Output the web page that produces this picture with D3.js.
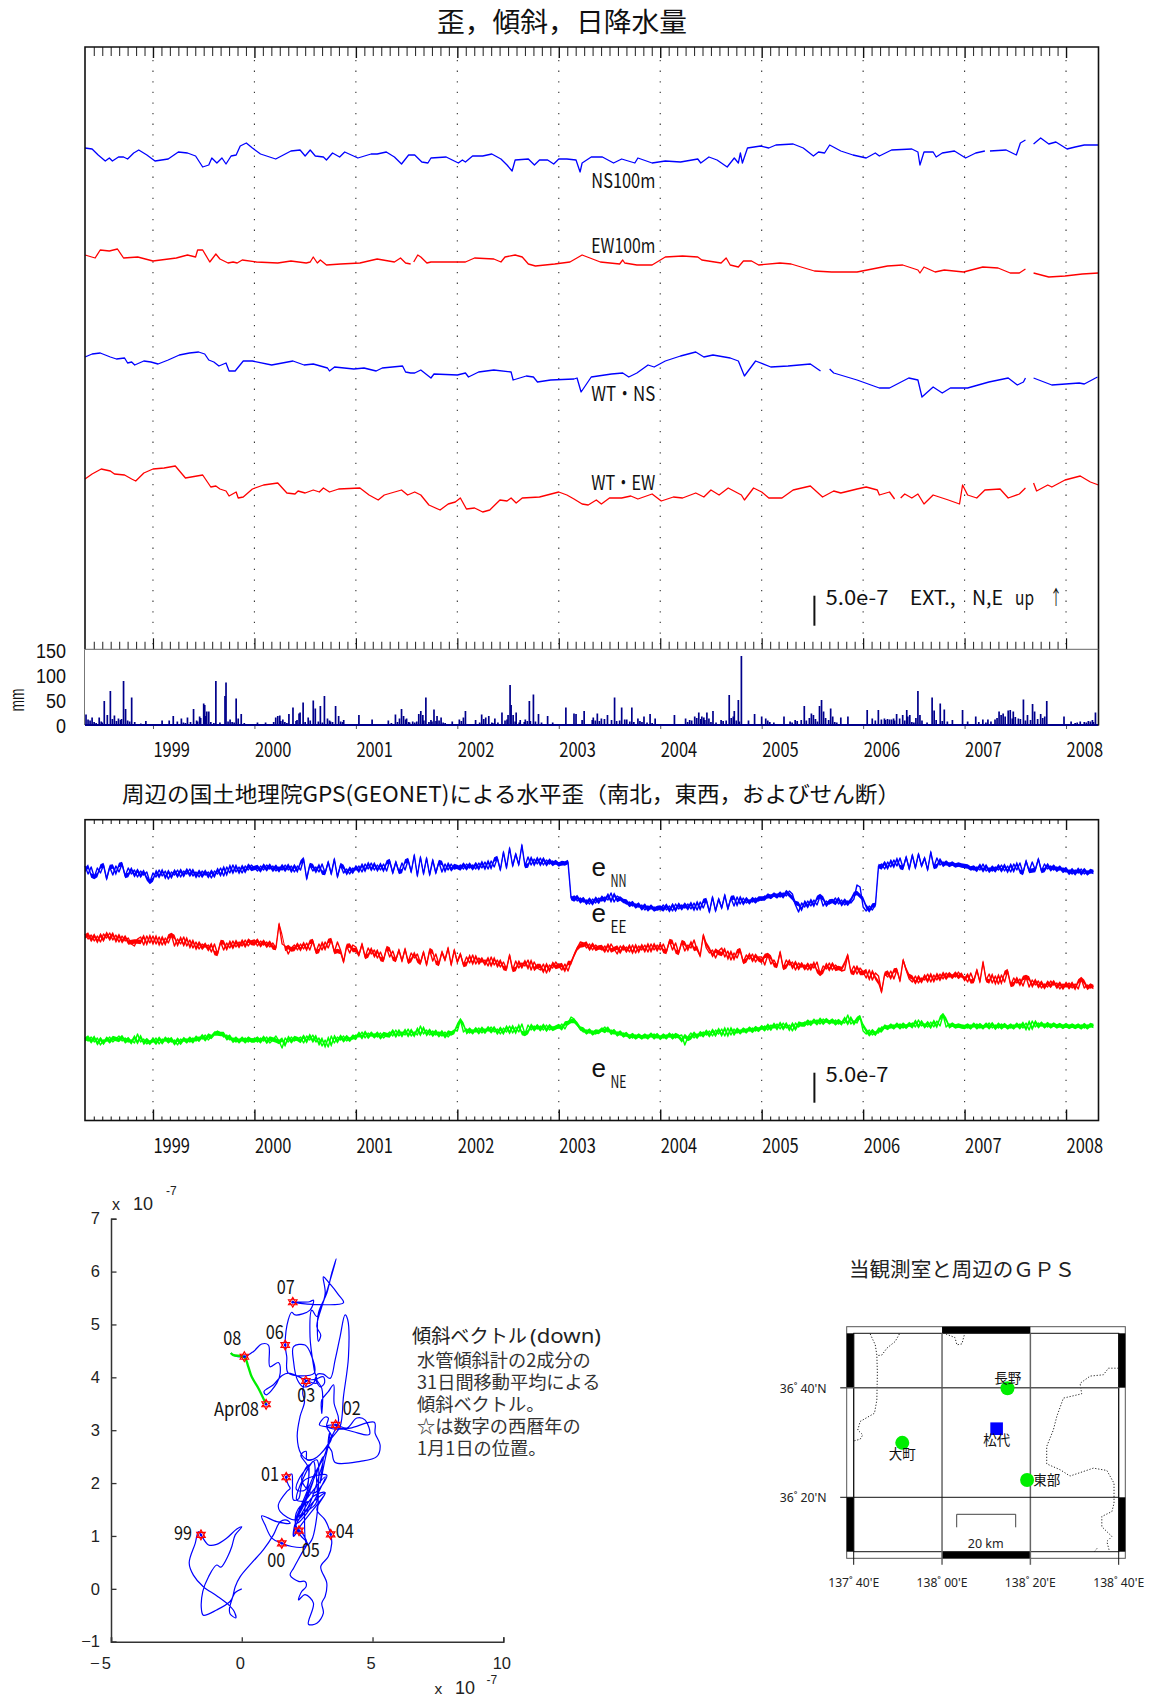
<!DOCTYPE html>
<html lang="ja"><head><meta charset="utf-8">
<script src="https://cdnjs.cloudflare.com/ajax/libs/d3/7.8.5/d3.min.js"></script>
<style>html,body{margin:0;padding:0;background:#fff}svg{display:block}</style></head><body>
<svg id="c" width="1151" height="1698"></svg>
<script>
// ---- time axis ----
const yearRange=[1998.33,2008.32];
const yearLabels=[1999,2000,2001,2002,2003,2004,2005,2006,2007,2008];
// ---- strain / tilt traces: [year, level] level unit = 1/30 of the 5.0e-7 bar; null = gap ----
const ns100=[[1998.33,501],[1998.40,500],[1998.46,494],[1998.53,488],[1998.57,491],[1998.60,488],[1998.66,492],[1998.71,492],[1998.75,490],[1998.81,496],[1998.86,499],[1998.94,494],[1999.02,488],[1999.15,490],[1999.25,497],[1999.34,496],[1999.42,493],[1999.49,482],[1999.55,484],[1999.58,491],[1999.63,486],[1999.68,491],[1999.72,485],[1999.77,493],[1999.82,494],[1999.86,503],[1999.92,506],[1999.98,501],[2000.06,495],[2000.21,490],[2000.36,498],[2000.45,499],[2000.50,493],[2000.55,499],[2000.60,493],[2000.68,492],[2000.71,489],[2000.77,496],[2000.84,492],[2000.89,497],[2001.02,491],[2001.15,495],[2001.21,495],[2001.30,497],[2001.38,492],[2001.45,485],[2001.52,494],[2001.58,494],[2001.65,487],[2001.71,486],[2001.74,491],[2001.89,492],[2002.01,486],[2002.05,489],[2002.08,487],[2002.15,493],[2002.25,493],[2002.34,495],[2002.43,490],[2002.49,484],[2002.54,478],[2002.57,489],[2002.70,490],[2002.76,484],[2002.81,489],[2002.89,489],[2002.95,485],[2003.00,490],[2003.08,490],[2003.17,489],[2003.21,477],[2003.23,486],[2003.32,492],[2003.43,492],[2003.54,486],[2003.62,490],[2003.75,486],[2003.78,491],[2003.92,486],[2004.05,488],[2004.20,487],[2004.37,490],[2004.40,486],[2004.48,492],[2004.56,489],[2004.66,482],[2004.73,491],[2004.77,486],[2004.79,496],[2004.81,486],[2004.86,501],[2004.99,503],[2005.07,501],[2005.14,504],[2005.31,505],[2005.41,501],[2005.51,493],[2005.56,497],[2005.62,496],[2005.67,504],[2005.78,498],[2005.90,494],[2006.03,491],[2006.12,496],[2006.16,493],[2006.28,499],[2006.48,500],[2006.54,497],[2006.56,484],[2006.60,497],[2006.69,497],[2006.72,492],[2006.78,496],[2006.90,498],[2007.01,491],[2007.11,496],[2007.20,498],null,[2007.25,498],[2007.41,499],[2007.51,494],[2007.55,506],[2007.60,509],null,[2007.68,505],[2007.75,511],[2007.83,505],[2007.90,507],[2008.01,500],[2008.09,502],[2008.18,504],[2008.32,504]];
const ew100=[[1998.33,394],[1998.43,391],[1998.48,399],[1998.57,398],[1998.65,400],[1998.71,391],[1998.85,392],[1999.00,388],[1999.23,391],[1999.34,394],[1999.42,392],[1999.44,399],[1999.49,399],[1999.56,387],[1999.62,395],[1999.66,390],[1999.74,386],[1999.79,387],[1999.83,386],[1999.88,389],[2000.02,387],[2000.23,386],[2000.36,388],[2000.51,386],[2000.55,387],[2000.58,392],[2000.62,386],[2000.65,389],[2000.71,384],[2000.85,385],[2001.04,386],[2001.21,390],[2001.38,387],[2001.44,391],[2001.49,386],[2001.54,385],null,[2001.57,387],[2001.61,394],[2001.64,392],[2001.70,386],[2001.74,387],[2002.08,387],[2002.17,391],[2002.36,390],[2002.43,387],[2002.47,392],[2002.57,394],[2002.64,392],[2002.70,385],[2002.77,383],[2002.96,385],[2003.11,387],[2003.23,394],[2003.41,387],[2003.60,385],[2003.63,389],[2003.65,386],[2003.77,384],[2003.92,384],[2004.05,392],[2004.22,393],[2004.37,392],[2004.41,389],[2004.60,386],[2004.65,391],[2004.69,384],[2004.77,382],[2004.82,388],[2004.90,388],[2004.97,384],[2005.18,386],[2005.29,385],[2005.52,378],[2005.69,377],[2005.94,377],[2006.24,383],[2006.39,384],[2006.54,379],[2006.56,376],[2006.60,382],[2006.71,377],[2006.80,379],[2006.99,377],[2007.18,382],[2007.33,381],[2007.45,376],[2007.54,376],[2007.60,380],null,[2007.68,376],[2007.83,372],[2007.99,373],[2008.16,375],[2008.32,376]];
const wtNS=[[1998.33,292],[1998.40,295],[1998.48,296],[1998.58,292],[1998.64,290],[1998.72,291],[1998.75,286],[1998.79,287],[1998.82,284],[1998.91,288],[1998.98,287],[1999.05,285],[1999.15,289],[1999.26,294],[1999.36,296],[1999.45,297],[1999.51,295],[1999.55,289],[1999.60,287],[1999.65,283],[1999.72,286],[1999.75,278],[1999.81,278],[1999.89,288],[1999.98,288],[2000.17,284],[2000.38,288],[2000.49,284],[2000.58,285],[2000.72,281],[2000.74,278],[2000.79,282],[2000.98,280],[2001.08,281],[2001.20,278],[2001.26,281],[2001.46,283],[2001.49,277],[2001.54,276],[2001.58,276],[2001.64,279],[2001.74,271],[2001.77,275],[2002.00,274],[2002.08,276],[2002.11,272],[2002.21,277],[2002.36,279],[2002.53,277],[2002.55,269],[2002.68,273],[2002.75,272],[2002.79,267],[2002.92,269],[2003.15,270],[2003.18,271],[2003.22,257],[2003.32,272],[2003.52,275],[2003.63,276],[2003.69,272],[2003.77,276],[2003.88,284],[2003.94,282],[2004.05,288],[2004.20,293],[2004.35,297],[2004.43,292],[2004.52,294],[2004.69,291],[2004.77,288],[2004.83,273],[2004.94,288],[2005.09,282],[2005.26,283],[2005.48,285],[2005.58,278],null,[2005.67,280],[2005.71,276],[2005.94,269],[2006.16,261],[2006.26,261],[2006.45,271],[2006.54,269],[2006.58,252],[2006.69,262],[2006.78,256],[2006.86,261],[2007.03,261],[2007.24,267],[2007.43,271],[2007.52,264],[2007.58,267],[2007.60,271],null,[2007.68,271],[2007.86,264],[2008.13,266],[2008.18,265],[2008.31,272]];
const wtEW=[[1998.33,170],[1998.40,175],[1998.49,180],[1998.58,178],[1998.62,175],[1998.72,174],[1998.79,170],[1998.83,168],[1998.91,176],[1999.00,180],[1999.11,181],[1999.22,183],[1999.32,171],[1999.49,174],[1999.57,162],[1999.62,163],[1999.66,160],[1999.72,158],[1999.75,153],[1999.82,157],[1999.84,151],[1999.89,152],[1999.98,160],[2000.09,164],[2000.23,166],[2000.32,156],[2000.40,155],[2000.43,158],[2000.50,156],[2000.58,159],[2000.64,157],[2000.68,161],[2000.74,157],[2000.83,160],[2001.04,161],[2001.13,154],[2001.22,149],[2001.28,154],[2001.45,159],[2001.51,154],[2001.58,157],[2001.64,154],[2001.72,144],[2001.83,139],[2001.91,145],[2001.98,147],[2002.03,151],[2002.09,140],[2002.17,141],[2002.25,137],[2002.32,139],[2002.42,149],[2002.49,148],[2002.53,151],[2002.58,146],[2002.64,151],[2002.81,152],[2003.00,157],[2003.08,154],[2003.15,150],[2003.23,145],[2003.29,144],[2003.37,149],[2003.42,145],[2003.50,151],[2003.62,151],[2003.71,153],[2003.78,150],[2003.92,155],[2004.01,148],[2004.13,152],[2004.22,151],[2004.35,156],[2004.43,152],[2004.50,159],[2004.58,154],[2004.67,161],[2004.80,154],[2004.83,149],[2004.92,161],[2005.00,157],[2005.07,151],[2005.20,151],[2005.31,159],[2005.48,163],[2005.60,152],[2005.71,158],[2005.78,156],[2005.94,160],[2006.03,162],[2006.14,159],[2006.16,154],[2006.26,157],[2006.31,150],null,[2006.37,151],[2006.41,155],[2006.48,151],[2006.54,155],[2006.60,145],[2006.69,154],[2006.84,149],[2006.95,145],[2006.98,164],[2007.03,154],[2007.12,151],[2007.20,159],[2007.35,160],[2007.43,151],[2007.54,155],[2007.60,161],null,[2007.68,166],[2007.71,158],[2007.82,164],[2007.86,162],[2007.99,169],[2008.14,173],[2008.24,167],[2008.32,164]];
// ---- daily precipitation ----
const rainYear=[1998.34,1998.36,1998.40,1998.47,1998.52,1998.55,1998.58,1998.62,1998.66,1998.71,1998.73,1998.79,1998.93,1999.09,1999.16,1999.20,1999.24,1999.28,1999.34,1999.40,1999.46,1999.50,1999.51,1999.53,1999.55,1999.62,1999.71,1999.72,1999.76,1999.82,1999.84,1999.87,2000.03,2000.11,2000.21,2000.23,2000.25,2000.28,2000.34,2000.38,2000.44,2000.45,2000.48,2000.53,2000.58,2000.60,2000.65,2000.69,2000.72,2000.75,2000.80,2000.83,2000.88,2001.03,2001.16,2001.32,2001.39,2001.45,2001.47,2001.50,2001.56,2001.62,2001.64,2001.66,2001.69,2001.74,2001.77,2001.80,2001.84,2001.95,2002.02,2002.06,2002.08,2002.18,2002.24,2002.28,2002.31,2002.37,2002.44,2002.50,2002.52,2002.53,2002.55,2002.58,2002.62,2002.67,2002.71,2002.75,2002.80,2002.89,2002.94,2003.07,2003.15,2003.17,2003.23,2003.25,2003.34,2003.38,2003.48,2003.55,2003.62,2003.65,2003.72,2003.78,2003.84,2003.90,2003.95,2004.14,2004.25,2004.29,2004.34,2004.38,2004.41,2004.46,2004.52,2004.60,2004.68,2004.73,2004.77,2004.80,2004.87,2004.93,2005.00,2005.04,2005.22,2005.33,2005.39,2005.42,2005.49,2005.51,2005.57,2005.59,2005.61,2005.68,2005.70,2005.78,2005.85,2006.04,2006.09,2006.15,2006.21,2006.26,2006.30,2006.33,2006.39,2006.43,2006.46,2006.54,2006.56,2006.68,2006.70,2006.76,2006.80,2006.88,2006.98,2007.03,2007.11,2007.18,2007.23,2007.26,2007.34,2007.38,2007.43,2007.45,2007.48,2007.53,2007.58,2007.62,2007.67,2007.69,2007.75,2007.79,2007.81,2007.98,2008.05,2008.14,2008.22,2008.26,2008.29];
const rainMm=[21,11,15,15,48,20,68,19,13,88,32,55,8,9,9,18,7,13,15,32,17,43,40,27,27,88,58,85,11,53,13,22,5,5,15,18,19,11,22,35,23,25,45,15,49,33,38,58,13,7,38,18,10,20,11,9,21,32,18,13,7,22,28,20,55,10,31,18,15,7,11,15,28,10,21,15,18,13,25,20,80,40,20,25,10,11,48,61,22,18,5,35,23,22,10,28,15,23,20,55,35,11,35,13,17,22,13,20,13,10,17,25,17,25,28,10,60,28,50,138,9,22,17,13,17,10,10,38,23,20,38,50,27,33,17,15,17,30,13,30,13,11,13,22,20,30,20,68,20,55,29,43,31,10,30,7,17,11,11,7,27,23,29,30,27,13,51,20,42,27,22,17,48,17,7,7,8,10,25];
const rainLight=[[1998.38,9],[1998.42,6],[1998.44,4],[1998.49,7],[1998.50,5],[1998.60,12],[1998.64,8],[1998.68,10],[1998.69,12],[1998.75,9],[1998.77,7],[1998.82,6],[1998.88,3],[1999.30,5],[1999.32,4],[1999.37,6],[1999.43,9],[1999.44,7],[1999.47,14],[1999.52,18],[1999.57,6],[1999.60,4],[1999.66,5],[1999.74,7],[1999.78,6],[1999.80,5],[1999.90,4],[2000.19,6],[2000.26,8],[2000.30,6],[2000.32,4],[2000.41,8],[2000.42,10],[2000.50,6],[2000.55,9],[2000.63,7],[2000.67,5],[2000.74,9],[2000.77,6],[2000.85,7],[2000.87,6],[2001.35,4],[2001.41,6],[2001.43,13],[2001.49,11],[2001.52,6],[2001.53,5],[2001.58,5],[2001.60,7],[2001.67,9],[2001.72,6],[2001.75,7],[2001.79,8],[2001.82,9],[2001.86,5],[2001.88,4],[2002.04,8],[2002.22,5],[2002.26,12],[2002.34,5],[2002.35,4],[2002.40,5],[2002.47,9],[2002.49,11],[2002.57,7],[2002.61,5],[2002.66,6],[2002.69,8],[2002.72,8],[2002.77,7],[2002.83,5],[2003.33,10],[2003.36,9],[2003.40,8],[2003.42,13],[2003.45,12],[2003.52,10],[2003.57,8],[2003.60,9],[2003.67,11],[2003.70,7],[2003.74,6],[2003.80,8],[2003.82,6],[2003.87,5],[2003.92,4],[2004.27,6],[2004.31,9],[2004.36,14],[2004.40,12],[2004.43,15],[2004.44,10],[2004.48,13],[2004.50,6],[2004.55,5],[2004.62,8],[2004.65,9],[2004.70,14],[2004.72,17],[2004.75,9],[2004.78,7],[2005.06,9],[2005.08,6],[2005.12,5],[2005.28,7],[2005.30,5],[2005.35,8],[2005.44,9],[2005.47,14],[2005.53,12],[2005.55,7],[2005.63,14],[2005.66,10],[2005.72,6],[2005.74,5],[2006.12,9],[2006.18,11],[2006.22,10],[2006.24,12],[2006.28,11],[2006.31,9],[2006.36,13],[2006.41,9],[2006.44,17],[2006.48,6],[2006.50,5],[2006.52,14],[2006.58,9],[2006.63,5],[2006.72,10],[2006.78,8],[2006.83,7],[2007.14,6],[2007.21,5],[2007.30,11],[2007.32,14],[2007.36,20],[2007.40,17],[2007.47,13],[2007.50,16],[2007.55,12],[2007.60,9],[2007.65,10],[2007.72,12],[2007.77,14],[2008.09,4],[2008.11,5],[2008.18,6],[2008.20,5],[2008.24,7],[2008.27,6]];
const rainTicks=[0,50,100,150];
// ---- GEONET strain: rows of [startYear, endYear, readings]; level unit = 1/30 of the bar ----
const gpsNN=[
[1998.33,1999,[254,246,253,243,252,247,255,241,253,245,254,248,256,244,252,246,250,243,249,245,248,238]],
[1999,2000,[247,243,250,244,249,241,248,245,250,243,249,246,251,244,248,243,249,245,248,242,249,246,252,244,253,247,255,248,253,247,254,250,255]],
[2000,2001,[252,249,254,250,255,251,254,249,253,250,255,250,254,248,254,250,261,241,255,249,253,248,256,247,258,246,261,243,255,247,251,246,252]],
[2001,2002,[250,254,248,256,251,257,250,255,250,256,249,259,247,258,248,257,250,260,248,265,244,263,246,262,245,260,247,258,248,256,250,256,251]],
[2002,2003,[252,255,251,256,252,255,251,257,252,258,251,259,253,262,250,268,252,272,254,266,255,275,254,263,255,261,256,262,255,260,256,259,256]],
[2003,2004,[257,255,257,258,222,224,219,222,218,220,216,221,217,222,219,223,220,227,218,224,222,219,216,218,214,216,213,215,210,214,211,213,210]],
[2004,2005,[211,215,210,214,209,216,211,215,212,216,211,217,210,218,212,220,208,223,209,221,212,225,211,222,214,223,216,222,217,220,218,222,219]],
[2005,2006,[221,224,222,225,224,226,223,227,224,229,226,215,208,217,213,219,214,220,215,224,214,219,216,218,222,216,220,215,219,217,221,235,233]],
[2006,2007,[213,209,214,210,215,254,256,251,258,253,260,254,262,252,263,251,265,252,266,254,262,250,268,253,262,255,258,255,257,255,256,254,255]],
[2007,2008,[255,253,252,250,253,250,256,249,252,249,253,250,255,249,254,248,256,250,257,247,259,249,258,250,261,249,256,251,254,250,253,250,252]],
[2008,2008.3,[248,250,246,250,247,251,246,249,247,249]]];
const gpsEE=[
[1998.33,1999,[186,181,185,179,184,178,186,182,187,180,185,178,184,179,182,176,174,181,183,175,184,177]],
[1999,2000,[184,176,183,175,182,177,185,174,181,176,183,174,180,172,178,171,176,173,175,168,176,166,178,170,177,172,179,173,178,174,180,174,179]],
[2000,2001,[180,174,179,175,178,173,177,172,196,176,174,166,172,175,170,176,171,177,170,179,168,176,170,178,172,180,168,178,170,158,174,167,175]],
[2001,2002,[173,165,176,163,172,166,170,162,168,160,172,163,169,160,170,159,171,158,167,162,166,157,168,155,170,159,166,156,168,160,172,155,170]],
[2002,2003,[158,166,155,163,157,165,156,162,158,160,154,163,155,160,153,158,151,165,150,159,152,157,154,160,150,158,152,150,156,147,155,152,158]],
[2003,2004,[154,150,156,149,158,165,172,178,177,172,176,170,175,172,170,174,168,176,171,166,174,170,173,168,175,167,174,170,175,168,176,170,175]],
[2004,2005,[170,176,168,179,170,177,167,178,169,175,172,180,170,164,185,172,167,170,162,169,172,163,169,160,167,162,170,158,165,161,166,158,163]],
[2005,2006,[163,155,165,156,160,154,168,152,160,155,158,150,157,153,155,150,156,152,158,146,154,151,157,150,155,152,149,150,165,148,154,146,152]],
[2006,2007,[148,142,150,140,147,144,128,146,143,149,141,150,139,160,150,141,138,144,137,142,140,146,138,145,140,146,141,147,143,145,143,148,143]],
[2007,2008,[143,138,147,139,150,138,158,140,146,137,144,136,145,138,149,135,142,137,141,134,143,133,140,135,139,132,136,133,139,135,137,131,136]],
[2008,2008.3,[133,137,132,136,131,141,132,135,132,134]]];
const gpsNE=[
[1998.33,1999,[82,79,83,78,82,75,80,79,83,78,81,84,79,82,78,80,77,86,78,81,76,79]],
[1999,2000,[78,82,76,81,79,82,78,80,75,81,79,81,78,82,79,83,81,85,80,84,86,89,87,83,85,80,82,78,81,79,82,78,81]],
[2000,2001,[81,78,82,79,83,77,80,84,79,72,82,78,83,79,81,83,77,84,80,85,78,82,74,80,73,84,77,83,80,84,79,82,81]],
[2001,2002,[85,83,88,82,87,84,86,83,87,82,85,88,84,90,84,88,85,91,84,88,85,94,86,90,85,89,85,88,84,88,83,87,90]],
[2002,2003,[89,100,88,91,87,90,88,92,87,91,89,93,88,91,86,92,88,94,87,93,88,96,86,95,90,94,91,94,90,95,90,93,92]],
[2003,2004,[92,96,91,97,103,101,95,91,88,90,87,89,86,88,90,93,88,90,86,88,85,87,84,85,82,85,83,84,82,85,83,86,82]],
[2004,2005,[84,82,85,83,86,82,84,85,75,83,87,82,86,84,88,85,89,84,90,86,91,84,92,85,91,87,90,88,91,89,92,89,92]],
[2005,2006,[91,94,90,95,92,96,91,97,92,95,89,97,93,96,98,95,99,97,100,96,101,98,99,97,100,96,98,97,105,96,99,97,103]],
[2006,2007,[89,86,90,85,88,87,93,92,94,92,95,93,96,92,95,94,97,93,100,94,96,93,98,93,99,94,105,93,96,94,95,93,94]],
[2007,2008,[94,92,95,93,96,92,94,93,97,92,95,92,96,93,94,92,95,93,96,92,97,90,99,93,97,94,96,93,96,94,95,93,95]],
[2008,2008.3,[93,95,93,94,93,95,92,95,93,95]]];
// ---- tilt vector path, units of 1e-7 ----
const tiltX=[0,-.25,-.45,-.96,-1.47,-1.54,-1.49,-1.27,-.96,-.80,-.51,-.38,-.25,0,-.19,-.57,-.96,-1.27,-1.56,-1.66,-1.78,-2.01,-1.85,-1.47,-.96,-.51,-.29,-.23,-.45,-.47,-.34,-.25,-.06,.38,.83,1.21,1.47,1.72,1.85,1.34,.76,.89,1.15,1.53,1.91,2.36,2.51,2.23,2.04,2.23,2.55,2.10,2.74,2.80,2.49,2.04,2.36,3.12,2.87,2.55,2.10,1.98,2.23,3.19,2.74,2.10,1.47,1.40,1.72,1.85,1.78,1.70,1.91,1.94,1.98,2.17,2.36,3.25,2.74,2.29,2.55,2.55,2.42,2.10,2.17,2.87,2.93,2.87,2.68,2.49,2.40,2.55,2.26,2.46,2.49,2.74,3.31,3.44,3.25,3.59,4.02,4.40,4.72,4.88,4.27,3.76,3.31,2.97,3.19,3.31,3.25,3.63,4.14,5.07,5.10,5.29,5.16,4.53,3.57,3.44,3.31,3.35,3.35,2.87,2.55,2.26,2.12,2.23,2.40,2.33,2.45,2.80,3.12,3.16,3.00,2.80,3.06,3.06,3.06,3.31,3.51,3.53,3.70,3.35,3.12,2.80,2.36,2.04,2.29,3.19,2.49,2.13,2.74,3.19,2.87,3.19,3.40,3.44,3.31,3.02,3.25,3.19,3.06,3.12,2.87,2.55,2.74,2.42,2.17,2.29,2.46,2.42,2.17,1.85,1.98,2.29,2.49,2.19,1.98,2.13,2.84,2.87,3.12,3.00,3.38,3.76,3.89,4.08,4.05,3.95,3.76,3.57,3.38,3.12,2.89,2.74,2.36,2.13,1.98,1.98,2.42,2.68,2.77,1.78,1.72,1.66,1.78,1.91,2.04,2.61,2.74,2.59,1.95,2.74,3.89,3.70,3.35,3.12,3.19,2.87,3.02,2.93,2.93,3.25,3.44,3.61,3.40,3.12,2.87,2.68,2.61,2.77,2.87,1.78,1.53,1.21,.85,.93,1.34,1.47,1.40,1.08,1.02,.76,.45,.10,-.32,-.42];
const tiltY=[0,-.07,-.24,-.40,-.50,-.40,-.05,.23,.45,.41,.64,.80,1.02,1.17,1.13,.96,.84,.83,1.02,1.08,.86,.49,.26,.04,-.13,-.30,-.43,-.55,-.47,-.37,-.14,.04,.23,.49,.74,1.02,1.27,1.30,1.24,1.27,1.38,1.21,.96,.86,.80,.79,.86,1.02,1.30,1.56,1.65,1.68,2.41,2.19,1.71,1.27,1.62,2.47,2.00,1.56,1.24,.99,1.18,1.81,1.65,1.30,1.46,1.59,1.84,1.90,1.97,2.11,2.17,2.00,1.68,1.70,2.04,2.15,1.81,2.06,2.34,2.06,1.87,1.87,2.06,2.44,1.88,1.37,.93,.83,1.40,2.28,2.53,2.60,2.44,2.45,2.72,2.88,3.07,3.10,3.04,3.23,3.19,2.92,2.97,3.04,3.06,3.10,3.25,3.23,3.07,3.02,3.04,3.15,2.94,2.72,2.50,2.41,2.39,2.60,2.72,2.94,2.79,2.49,2.44,2.56,2.88,3.26,3.54,3.70,3.93,3.96,4.01,3.89,3.82,3.98,3.79,3.32,3.57,3.73,3.86,3.51,3.19,2.79,2.47,2.19,1.68,1.30,1.56,2.12,1.43,1.24,1.75,1.82,1.50,1.30,1.03,.86,.61,.42,.11,-.14,-.27,-.46,-.65,-.67,-.27,-.11,-.21,-.05,.04,.14,.14,.26,.39,.67,.86,1.10,.99,1.34,1.62,2.19,2.50,2.00,2.80,3.07,3.64,4.39,5.09,5.18,4.77,4.33,3.98,4.06,4.06,3.89,3.82,3.95,4.30,4.58,4.61,4.39,4.08,4.08,4.39,4.61,5.09,5.23,5.18,5.27,5.46,5.43,5.42,5.38,5.41,5.56,5.78,5.90,5.59,4.96,4.80,4.68,5.21,5.59,5.97,6.24,5.87,5.43,5.15,5.27,4.77,4.14,3.89,4.08,4.03,3.86,3.73,3.67,3.89,4.08,4.28,4.20,4.61,4.63,4.49,4.39,4.42,4.46];
const recentX=[-.42,-.32,.10,.25,.38,.64,.93];
const recentY=[4.46,4.42,4.38,4.20,4.01,3.79,3.49];
const starNames=["99","00","01","02","03","04","05","06","07","08","Apr08"];
const starX=[-1.56,1.53,1.70,3.59,2.45,3.40,2.19,1.66,1.95,.10,.93];
const starY=[1.02,.86,2.11,3.10,3.93,1.03,1.10,4.61,5.42,4.39,3.49];
const tiltTicksX=[-5,0,5,10], tiltTicksY=[-1,0,1,2,3,4,5,6,7];
const tiltNote=["水管傾斜計の2成分の","31日間移動平均による","傾斜ベクトル。","☆は数字の西暦年の","1月1日の位置。"];
// ---- map ----
const lonTicks=[137+40/60,138,138+20/60,138+40/60], latTicks=[36+20/60,36+40/60];
const lonLabels=["137˚ 40'E","138˚ 00'E","138˚ 20'E","138˚ 40'E"], latLabels=["36˚ 20'N","36˚ 40'N"];
const gpsSites=[{n:"長野",lon:138.247,lat:36.665},{n:"大町",lon:137.850,lat:36.499},{n:"東部",lon:138.321,lat:36.386}];
const observatory={n:"松代",lon:138.206,lat:36.542};
const borders=[
[[137.729,36.830],[137.748,36.797],[137.754,36.766],[137.756,36.711],[137.754,36.629],[137.745,36.589],[137.691,36.564],[137.682,36.538],[137.701,36.523],[137.691,36.510],[137.668,36.505]],
[[137.839,36.830],[137.823,36.807],[137.792,36.787],[137.773,36.766],[137.754,36.764]],
[[138.015,36.830],[138.049,36.819],[138.056,36.797],[138.075,36.800],[138.085,36.830]],
[[138.666,36.726],[138.628,36.726],[138.609,36.706],[138.559,36.702],[138.521,36.680],[138.527,36.648],[138.458,36.635],[138.433,36.579],[138.420,36.538],[138.395,36.488],[138.395,36.435],[138.446,36.417],[138.483,36.398],[138.571,36.422],[138.622,36.415],[138.649,36.376],[138.649,36.315],[138.641,36.290],[138.603,36.275],[138.603,36.244],[138.641,36.214],[138.622,36.199],[138.632,36.168]],
[[138.575,36.168],[138.588,36.181]]];

const JP='"Noto Sans CJK JP","Noto Sans",sans-serif', SANS='"Liberation Sans",Arial,sans-serif', NS='"Noto Sans",sans-serif';
const svg=d3.select("#c");
function txt(x,y,s,o={}){
  const t=svg.append("text").attr("x",x).attr("y",y).text(s)
    .attr("font-family",o.font||JP).attr("font-size",o.size||20).attr("fill",o.fill||"#111")
    .attr("text-anchor",o.anchor||"start");
  if(o.w) t.attr("textLength",o.w).attr("lengthAdjust","spacingAndGlyphs");
  if(o.rot) t.attr("transform",`rotate(${o.rot} ${x} ${y})`);
  return t;
}
const x=d3.scaleLinear().domain(yearRange).range([85,1098.5]);
const tickFrom=d3.range(0,121).map(i=>1998+i/12).filter(v=>v>yearRange[0]+.01&&v<yearRange[1]-.01&&Math.abs(v-Math.round(v))>.001);
const yearTicks=yearLabels;
const lvl1=d3.scaleLinear().domain([0,602]).range([649,47]);
const lvl2=d3.scaleLinear().domain([0,300]).range([1120,820]);
const rainY=d3.scaleLinear().domain([0,150]).range([725,650]);

function ticks(gen,y,vals,size,color,w){
  svg.append("g").attr("transform",`translate(0,${y})`)
   .call(gen(x).tickValues(vals).tickSize(size).tickFormat(""))
   .call(g=>g.select(".domain").remove())
   .call(g=>g.selectAll("line").attr("stroke",color).attr("stroke-width",w));
}
function grid(y0,y1){
  svg.append("g").selectAll("line").data(yearTicks).join("line")
   .attr("x1",d=>x(d)).attr("x2",d=>x(d)).attr("y1",y0).attr("y2",y1)
   .attr("stroke","#333").attr("stroke-width",1.1).attr("stroke-dasharray","1.3 9.3");
}
function yearText(y){
  svg.append("g").attr("transform",`translate(0,${y})`)
   .call(d3.axisBottom(x).tickValues(yearLabels).tickSize(0).tickFormat(d3.format("d")))
   .call(g=>g.select(".domain").remove())
   .call(g=>g.selectAll("text").attr("text-anchor","start").attr("x",0).attr("y",0).attr("dy",0)
     .attr("font-family",JP).attr("font-size",20).attr("fill","#111")
     .attr("textLength",36.5).attr("lengthAdjust","spacingAndGlyphs"));
}
function trace(scale,data,color,w){
  svg.append("path").datum(data).attr("fill","none").attr("stroke",color).attr("stroke-width",w).attr("stroke-linejoin","round")
   .attr("d",d3.line().defined(d=>d).x(d=>x(d[0])).y(d=>scale(d[1])));
}
// ===== Panel 1 =====
txt(562,31.5,"歪\uFF0C傾斜\uFF0C日降水量",{size:27,anchor:"middle",w:250});
grid(60,645);
[[ns100,"#0000ff"],[ew100,"#ff0000"],[wtNS,"#0000ff"],[wtEW,"#ff0000"]].forEach(([d,c])=>trace(lvl1,d,c,1.3));
// rain
const rainAll=rainYear.map((d,i)=>[d,rainMm[i]]).concat(rainLight);
svg.append("g").selectAll("line").data(rainAll).join("line")
  .attr("x1",d=>x(d[0])).attr("x2",d=>x(d[0])).attr("y1",rainY(0)).attr("y2",d=>rainY(d[1]))
  .attr("stroke","#00008b").attr("stroke-width",1.7);
svg.append("line").attr("x1",85).attr("x2",1098.5).attr("y1",rainY(0)).attr("y2",rainY(0)).attr("stroke","#00008b").attr("stroke-width",2);
ticks(d3.axisTop,47,tickFrom,-9,"#333",1.1);
ticks(d3.axisTop,47,yearTicks,-11,"#111",1.4);
ticks(d3.axisTop,649.3,tickFrom,7.5,"#333",1.1);
ticks(d3.axisTop,649.3,yearTicks,11,"#111",1.2);
ticks(d3.axisBottom,726,yearTicks,3,"#555",1);
svg.append("path").attr("d",`M85 649.3V47H1098.5V725.5`).attr("fill","none").attr("stroke","#111").attr("stroke-width",1.6);
svg.append("line").attr("x1",85).attr("x2",1098.5).attr("y1",649.3).attr("y2",649.3).attr("stroke","#666").attr("stroke-width",1);
svg.append("line").attr("x1",84.5).attr("x2",84.5).attr("y1",649.3).attr("y2",725).attr("stroke","#777").attr("stroke-width",1);
svg.append("g").attr("transform","translate(66,0)")
  .call(d3.axisLeft(rainY).tickValues(rainTicks).tickSize(0))
  .call(g=>g.select(".domain").remove())
  .call(g=>g.selectAll("text").attr("x",0).attr("dy","0").attr("y",7.5).attr("font-family",SANS).attr("font-size",20).attr("fill","#111").attr("text-anchor","end")
     .each(function(d){d3.select(this).attr("textLength",d>=100?30:d>=50?20:10).attr("lengthAdjust","spacingAndGlyphs");}));
txt(23.5,711.5,"mm",{font:SANS,size:20,rot:-90,w:23});
yearText(756.5);
txt(591.3,188,"NS100m",{w:64});
txt(591.3,253,"EW100m",{w:64});
txt(591.3,401,"WT・NS",{w:64});
txt(591.3,489.5,"WT・EW",{w:64});
svg.append("line").attr("x1",814.4).attr("x2",814.4).attr("y1",lvl1(53.3)).attr("y2",lvl1(23.3)).attr("stroke","#111").attr("stroke-width",2);
txt(825.5,605,"5.0e-7",{w:63});txt(909.7,605,"EXT.,",{w:46});txt(972,605,"N,E",{w:31});txt(1015,605,"up",{w:19});txt(1050,605,"↑",{w:12});
// ===== Panel 2 =====
txt(122,801.5,"周辺の国土地理院GPS(GEONET)による水平歪\uFF08南北\uFF0C東西\uFF0Cおよびせん断\uFF09",{size:22,w:778});
grid(836,1116);
function expand(rows){
  const out=[];rows.forEach(([a,b,v])=>v.forEach((h,i)=>out.push([a+i*(b-a)/v.length,h])));return out;
}
// noisy band: thin solid core following the mean of each reading's neighbours, plus the reading zigzag
function band(rows,color){
  const p=expand(rows), core=p.map((d,i)=>{
    const m=((p[i-1]||d)[1]+(p[i+1]||d)[1])/2;
    return [d[0],Math.abs(m-d[1])>9?d[1]:m];
  });
  svg.append("path").datum(core).attr("fill",color).attr("d",d3.area().x(d=>x(d[0]))
     .y0(d=>lvl2(d[1]-2.2)).y1(d=>lvl2(d[1]+2.2)));
  trace(lvl2,p,color,1.4);
}
[[gpsNE,"#00ff00"],[gpsEE,"#ff0000"],[gpsNN,"#0000ff"]].forEach(([r,c])=>band(r,c));
ticks(d3.axisTop,820,tickFrom,-4,"#222",1.1);
ticks(d3.axisTop,820,yearTicks,-10,"#111",1.4);
ticks(d3.axisBottom,1120.5,tickFrom,-4,"#222",1.1);
ticks(d3.axisBottom,1120.5,yearTicks,-11,"#111",1.4);
svg.append("rect").attr("x",85).attr("y",819.7).attr("width",1013.5).attr("height",300.8).attr("fill","none").attr("stroke","#111").attr("stroke-width",1.6);
yearText(1153.3);
[["NN",876,886.7],["EE",922.3,932.7],["NE",1076.7,1088.3]].forEach(([s,y0,y1])=>{
  txt(591.5,y0,"e",{font:SANS,size:26});txt(610.5,y1,s,{size:17,w:16});
});
svg.append("line").attr("x1",814.4).attr("x2",814.4).attr("y1",1072.7).attr("y2",1102.7).attr("stroke","#111").attr("stroke-width",2);
txt(825.5,1081.7,"5.0e-7",{w:63});
// ===== Tilt vector =====
const tx=d3.scaleLinear().domain([-5,10]).range([111,503.3]);
const ty=d3.scaleLinear().domain([-1,7]).range([1641.7,1218.7]);
const tline=d3.line().x(i=>i[0]).y(i=>i[1]).curve(d3.curveCatmullRom.alpha(.5));
svg.append("path").datum(tiltX.map((v,i)=>[tx(v),ty(tiltY[i])])).attr("fill","none").attr("stroke","#0000ff").attr("stroke-width",1.2).attr("stroke-linejoin","round").attr("d",tline);
svg.append("path").datum(recentX.map((v,i)=>[tx(v),ty(recentY[i])])).attr("fill","none").attr("stroke","#00ee00").attr("stroke-width",2.3).attr("d",tline);
const hex=r=>{const p=(a)=>[r*Math.cos(a*Math.PI/180),r*Math.sin(a*Math.PI/180)];
  const tri=as=>"M"+as.map(a=>p(a).join(",")).join("L")+"Z";return tri([-90,30,150])+tri([90,210,330]);};
const starG=svg.append("g").selectAll("g").data(starX).join("g").attr("transform",(d,i)=>`translate(${tx(d)},${ty(starY[i])})`);
starG.append("circle").attr("r",1.4).attr("fill","#0000ff");
starG.append("path").attr("d",hex(5)).attr("fill","none").attr("stroke","#ff0000").attr("stroke-width",1.1);
const starLab={"07":[276.7,1294],"06":[265.7,1339],"08":[223.3,1345],"03":[297.3,1401.7],"02":[342.7,1415],"Apr08":[214,1415.7],"01":[261,1480.7],"99":[174,1540],"04":[335.7,1537.7],"05":[301.7,1556.7],"00":[267.3,1566.7]};
starNames.forEach(n=>txt(starLab[n][0],starLab[n][1],n,{size:19,w:n==="Apr08"?45:18}));
svg.append("g").attr("transform","translate(111,0)").call(d3.axisLeft(ty).tickValues(tiltTicksY).tickSize(-5.5).tickPadding(11))
  .call(g=>g.select(".domain").attr("stroke","#333").attr("stroke-width",1.5))
  .call(g=>g.selectAll("line").attr("stroke","#333").attr("stroke-width",1.3))
  .call(g=>g.selectAll("text").attr("font-family",SANS).attr("font-size",16.5).attr("fill","#222"));
svg.append("g").attr("transform","translate(0,1641.7)").call(d3.axisBottom(tx).tickValues(tiltTicksX).tickSize(-4.5).tickPadding(16))
  .call(g=>g.select(".domain").attr("stroke","#333").attr("stroke-width",1.5))
  .call(g=>g.selectAll("line").attr("stroke","#333").attr("stroke-width",1.3))
  .call(g=>g.selectAll("text").attr("font-family",SANS).attr("font-size",16.5).attr("fill","#222").attr("dx",d=>d===-5?-10:-2).attr("letter-spacing",d=>d<0?"2px":"0"));
txt(112,1210,"x",{font:SANS,size:16,fill:"#222"});txt(133,1210,"10",{font:SANS,size:18,fill:"#222",w:20});txt(166,1195,"-7",{font:SANS,size:12,fill:"#222"});
txt(434.5,1694,"x",{font:SANS,size:15.5,fill:"#222"});txt(455,1694,"10",{font:SANS,size:17.5,fill:"#222",w:20});txt(486.5,1684,"-7",{font:SANS,size:12,fill:"#222"});
// note
txt(412,1343,"傾斜ベクトル",{size:19.2,fill:"#222",w:115});txt(530,1343,"(down)",{font:NS,size:20,fill:"#222",w:71});
const noteT=svg.append("text").attr("font-family",JP).attr("font-size",18.2).attr("fill","#333");
noteT.selectAll("tspan").data(tiltNote).join("tspan").attr("x",417).attr("y",(d,i)=>1366.7+i*22).text(d=>d);
// ===== Map =====
txt(962,1276.5,"当観測室と周辺の\uFF27\uFF30\uFF33",{size:20,anchor:"middle",w:226,fill:"#222"});
const lon=d3.scaleLinear().domain([lonTicks[0],lonTicks[3]]).range([853.7,1118.7]);
const lat=d3.scaleLinear().domain([latTicks[0],latTicks[1]]).range([1497.3,1387.7]);
const L=853.7,R=1118.7,T=1333.3,B=1551.7,OL=846.7,OR=1125.3,OT=1326.7,OB=1558.3;
// fancy frame
svg.append("rect").attr("x",OL).attr("y",OT).attr("width",OR-OL).attr("height",OB-OT).attr("fill","#fff").attr("stroke","#555").attr("stroke-width",1);
[[lon(lonTicks[1]),OT,lon(lonTicks[2])-lon(lonTicks[1]),T-OT],[lon(lonTicks[1]),B,lon(lonTicks[2])-lon(lonTicks[1]),OB-B],
 [OL,T,L-OL,lat(latTicks[1])-T],[R,T,OR-R,lat(latTicks[1])-T],[OL,lat(latTicks[0]),L-OL,B-lat(latTicks[0])],[R,lat(latTicks[0]),OR-R,B-lat(latTicks[0])]]
 .forEach(a=>svg.append("rect").attr("x",a[0]).attr("y",a[1]).attr("width",a[2]).attr("height",a[3]).attr("fill","#000"));
svg.append("rect").attr("x",L).attr("y",T).attr("width",R-L).attr("height",B-T).attr("fill","none").attr("stroke","#111").attr("stroke-width",1);
const bl=d3.line().x(d=>lon(d[0])).y(d=>lat(d[1]));
svg.append("g").selectAll("path").data(borders).join("path").attr("d",bl).attr("fill","none").attr("stroke","#222").attr("stroke-width",1).attr("stroke-dasharray","1.2 1.8");
lonTicks.forEach((v,i)=>{svg.append("line").attr("x1",lon(v)).attr("x2",lon(v)).attr("y1",T).attr("y2",OB+6.5).attr("stroke",(i==1||i==2)?"#666":"#111").attr("stroke-width",(i==1||i==2)?1.5:1);
  txt(lon(v),1587.3,lonLabels[i],{font:NS,size:13,anchor:"middle",fill:"#222",w:51});});
latTicks.forEach((v,i)=>{svg.append("line").attr("x1",OL-6.5).attr("x2",R).attr("y1",lat(v)).attr("y2",lat(v)).attr("stroke",i==1?"#555":"#111").attr("stroke-width",i==1?1.5:1);
  txt(826.7,lat(v)+5,latLabels[i],{font:NS,size:13,anchor:"end",fill:"#222",w:47});});
svg.append("g").selectAll("circle").data(gpsSites).join("circle").attr("cx",d=>lon(d.lon)).attr("cy",d=>lat(d.lat)).attr("r",7).attr("fill","#00ee00");
svg.append("rect").attr("x",lon(observatory.lon)-6.3).attr("y",lat(observatory.lat)-6.3).attr("width",12.6).attr("height",12.6).attr("fill","#0000ff");
txt(1007.7,1382.7,"長野",{size:13.5,anchor:"middle"});txt(902.3,1459.3,"大町",{size:13.5,anchor:"middle"});txt(996.7,1445,"松代",{size:13.5,anchor:"middle"});txt(1033.3,1485,"東部",{size:13.5});
svg.append("path").attr("d","M956.7 1527.3V1514.3H1015.7V1527.3").attr("fill","none").attr("stroke","#444").attr("stroke-width",1);
txt(985.7,1548,"20 km",{font:NS,size:12.5,anchor:"middle",fill:"#222"});
</script></body></html>
